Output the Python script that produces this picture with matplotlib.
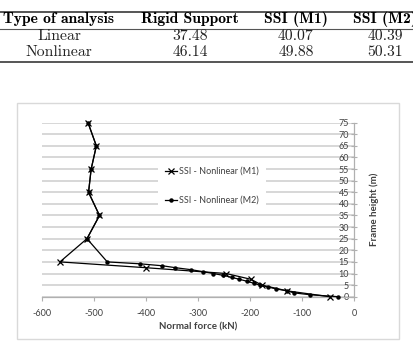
#!/usr/bin/env python3
"""Normal force vs frame height, nonlinear SSI models, with the summary table above."""

import matplotlib
matplotlib.use("Agg")
import matplotlib.pyplot as plt
from matplotlib.lines import Line2D
from matplotlib.patches import Rectangle

plt.rcParams["axes.unicode_minus"] = False

# table
table_header = ["Type of analysis", "Rigid Support", "SSI (M1)", "SSI (M2)"]
table_rows = [
    ["Linear", "37.48", "40.07", "40.39"],
    ["Nonlinear", "46.14", "49.88", "50.31"],
]

# chart data
m1_height = [75, 65, 55, 45, 35, 25, 15, 12.5, 10, 7.5, 5, 2.5, 0]
m1_force = [-511, -495, -505, -510, -489, -513, -565, -400, -246, -198, -177, -128, -47]

m2_height = [75, 65, 55, 45, 35, 25, 15, 14.17, 13.33, 12.5, 11.67, 10.83, 10,
             9.17, 8.33, 7.5, 6.67, 5.83, 5, 4.17, 3.33, 2.5, 1.67, 0.83, 0]
m2_force = [-511, -495, -505, -510, -489, -513, -474, -411, -368, -343, -314, -291, -270,
            -251, -235, -220, -206, -193, -181, -165, -149, -128, -116, -84, -30]

x_ticks = [-600, -500, -400, -300, -200, -100, 0]
y_ticks = [0, 5, 10, 15, 20, 25, 30, 35, 40, 45, 50, 55, 60, 65, 70, 75]

W, H = 414, 343
fig = plt.figure(figsize=(W / 100, H / 100), dpi=100)


def fx(px):
    return px / W


def fy(py):
    return 1 - py / H


# --- table at the top ---
col_x = [59, 190, 296, 385]
for x, txt in zip(col_x, table_header):
    fig.text(fx(x), fy(19.5), txt, family="cmb10", fontsize=11.3, ha="center", va="center")
for row, y in zip(table_rows, [36.5, 52.5]):
    for x, txt in zip(col_x, row):
        fig.text(fx(x), fy(y), txt, family="cmr10", fontsize=11.3, ha="center", va="center",
                 color="#222222")
for y, lw in [(12.3, 1.4), (29.3, 0.8), (61.7, 1.4)]:
    fig.add_artist(Line2D([0, 1], [fy(y), fy(y)], color="#555555", lw=lw))

# --- chart frame ---
fig.add_artist(Rectangle((fx(17), fy(339)), fx(382), 236 / H, fill=False,
                         edgecolor="#d9d9d9", lw=1.0))

ax = fig.add_axes([fx(41.7), fy(296.7), fx(354 - 41.7), (296.7 - 122.7) / H])
ax.set_xlim(-600, 0)
ax.set_ylim(0, 75)
ax.set_xticks(x_ticks)
ax.set_yticks(y_ticks)
ax.grid(axis="y", color="#d4d4d4", lw=1.3)
ax.set_axisbelow(True)

for s in ["top", "right"]:
    ax.spines[s].set_visible(False)
ax.spines["left"].set_position(("data", 0))
for s in ["left", "bottom"]:
    ax.spines[s].set_color("#b0b0b0")
    ax.spines[s].set_linewidth(0.9)

ax.tick_params(axis="x", direction="out", length=3, color="#b0b0b0", labelsize=6.5,
               labelcolor="#404040", pad=6)
ax.tick_params(axis="y", direction="inout", length=5, color="#b0b0b0", labelsize=6.5,
               labelcolor="#404040", pad=1)
for lab in ax.get_xticklabels() + ax.get_yticklabels():
    lab.set_family("Lato")

ax.plot(m1_force, m1_height, color="black", lw=0.9, marker="x", ms=5, mew=0.9,
        label="SSI - Nonlinear (M1)", clip_on=False, zorder=3)
ax.plot(m2_force, m2_height, color="black", lw=0.9, marker="o", ms=2.2,
        label="SSI - Nonlinear (M2)", clip_on=False, zorder=3)

leg = ax.legend(loc="center", bbox_to_anchor=(fx(212), fy(186)), bbox_transform=fig.transFigure,
                frameon=True, facecolor="white", edgecolor="none", fancybox=False,
                prop={"family": "Lato", "size": 6.5}, labelspacing=2.2, handlelength=1.3,
                handletextpad=0.2, borderpad=0.8, framealpha=1)
for t in leg.get_texts():
    t.set_color("#404040")

ax.set_xlabel("Normal force (kN)", family="Lato", fontweight="bold", fontsize=7,
              color="#404040", labelpad=3)
ax.yaxis.set_label_position("right")
ax.set_ylabel("Frame height (m)", family="Lato", fontweight="bold", fontsize=7,
              color="#404040", labelpad=11)

fig.savefig("out.png", dpi=100)
